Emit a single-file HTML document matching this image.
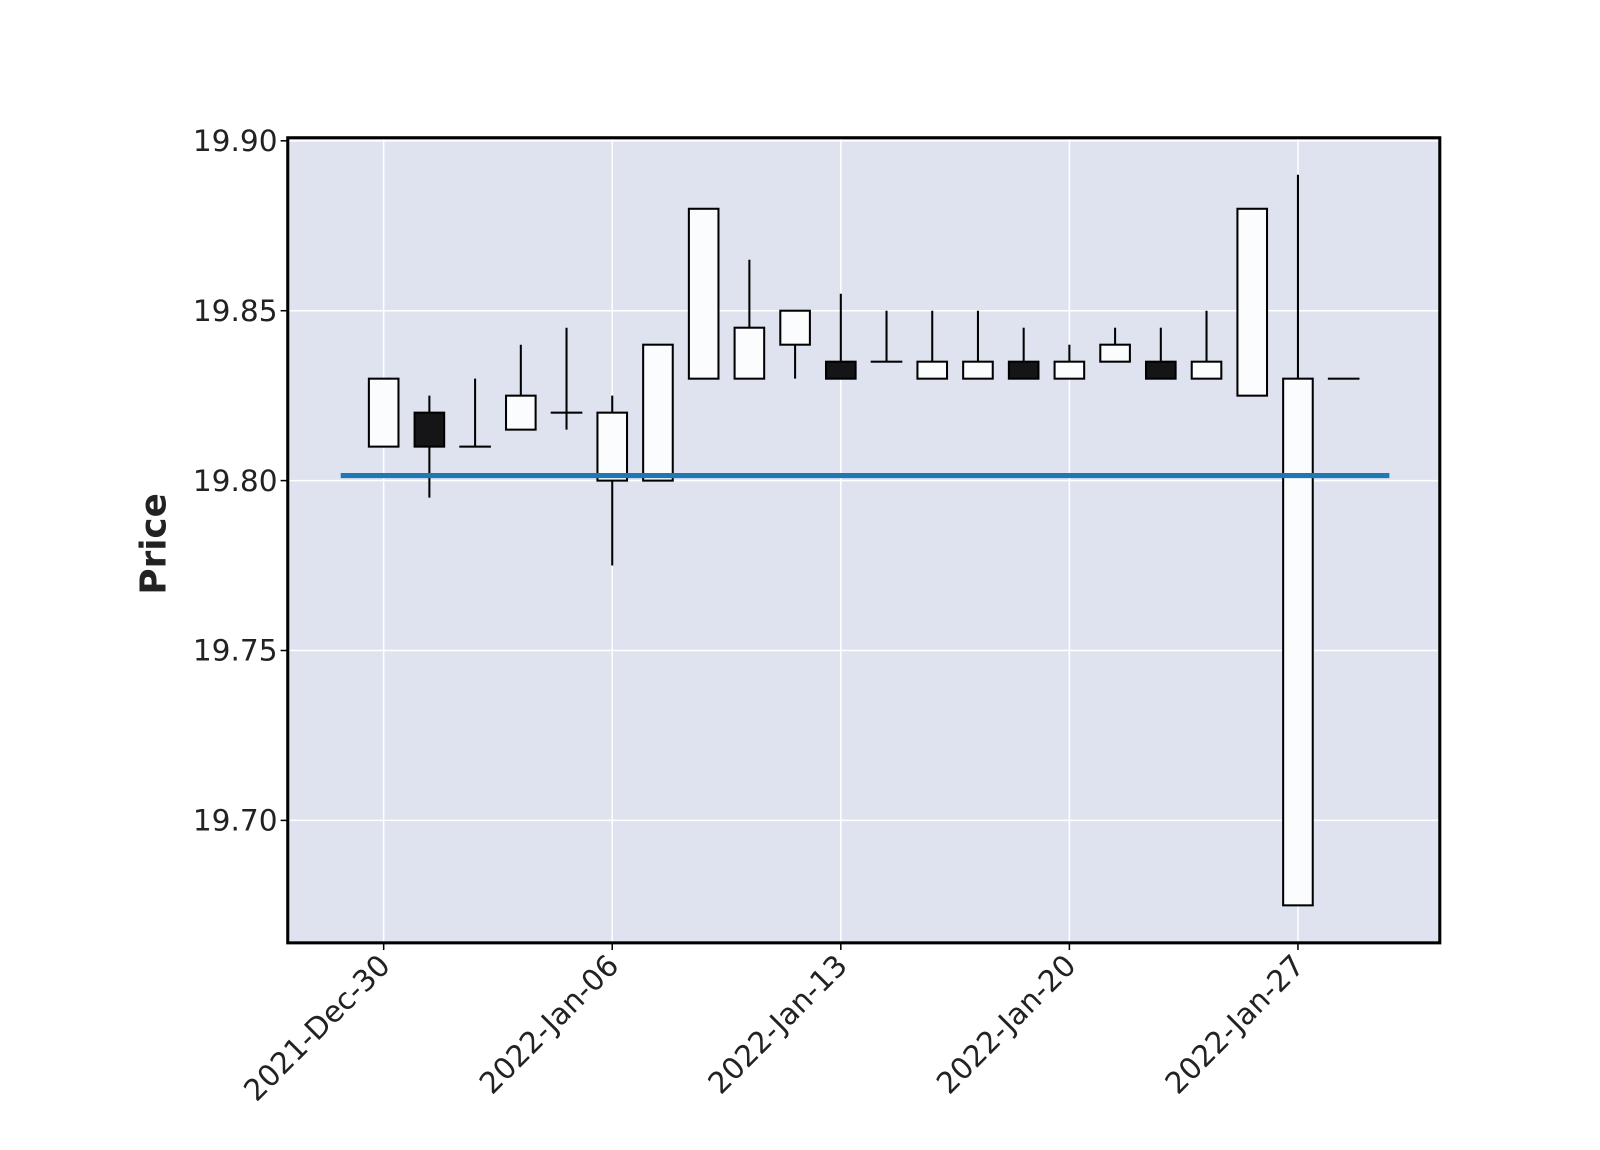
<!DOCTYPE html>
<html><head><meta charset="utf-8"><style>
html,body{margin:0;padding:0;background:#fff;}
svg{display:block;font-family:"DejaVu Sans","Liberation Sans",sans-serif;}
</style></head><body>
<svg id="chart" width="1600" height="1150" viewBox="0 0 1600 1150" xmlns="http://www.w3.org/2000/svg">
<g transform="scale(1.0204)">
<rect x="282" y="135" width="1129" height="789" fill="#dee3ef"/>
<g id="grid"></g>
<g id="marks"></g>
<g id="avg"></g>
<rect x="282" y="135" width="1129" height="789" fill="none" stroke="#000" stroke-width="3"/>
<g id="yticks"></g>
<g id="xticks"></g>
<text x="162" y="533" transform="rotate(-90 162 533)" text-anchor="middle" font-size="35" font-weight="bold" fill="#222">Price</text>
</g>
</svg>
<script>
const opens  = [19.81,19.82,19.81,19.815,19.82,19.80,19.80,19.83,19.83,19.84,19.835,19.835,19.83,19.83,19.835,19.83,19.835,19.835,19.83,19.825,19.675,19.83];
const highs  = [19.83,19.825,19.83,19.84,19.845,19.825,19.84,19.88,19.865,19.85,19.855,19.85,19.85,19.85,19.845,19.84,19.845,19.845,19.85,19.88,19.89,19.83];
const lows   = [19.81,19.795,19.81,19.815,19.815,19.775,19.80,19.83,19.83,19.83,19.83,19.835,19.83,19.83,19.83,19.83,19.835,19.83,19.83,19.825,19.675,19.83];
const closes = [19.83,19.81,19.81,19.825,19.82,19.82,19.84,19.88,19.845,19.85,19.83,19.835,19.835,19.835,19.83,19.835,19.84,19.83,19.835,19.88,19.83,19.83];
const avgValue = 19.8015;
const yTicks = [19.70,19.75,19.80,19.85,19.90];
const xTickIdx = [0,5,10,15,20];
const xTickLabels = ["2021-Dec-30","2022-Jan-06","2022-Jan-13","2022-Jan-20","2022-Jan-27"];

const NS="http://www.w3.org/2000/svg";
const X=i=>376+i*44.8;
const Y=v=>138+(19.90-v)*3330;
function mk(tag,attrs,parent){const e=document.createElementNS(NS,tag);for(const k in attrs)e.setAttribute(k,attrs[k]);document.getElementById(parent).appendChild(e);return e;}

yTicks.forEach((t,i)=>{
  const g=mk('line',{x1:282,x2:1411,y1:Y(t),y2:Y(t),stroke:'#fff','stroke-width':1.5},'grid');
  
  
  const tk=mk('line',{x1:275,x2:282,y1:Y(t),y2:Y(t),stroke:'#000','stroke-width':1.5},'yticks');
  
  
  const tx=mk('text',{x:272,y:Y(t)+10,'text-anchor':'end','font-size':29,fill:'#222'},'yticks');
  tx.textContent=t.toFixed(2);
  
  
});
xTickIdx.forEach((idx,i)=>{
  const g=mk('line',{x1:X(idx),x2:X(idx),y1:135,y2:924,stroke:'#fff','stroke-width':1.5},'grid');
  
  
  const tk=mk('line',{x1:X(idx),x2:X(idx),y1:924,y2:931,stroke:'#000','stroke-width':1.5},'xticks');
  
  
  const x=X(idx)+8,y=948;
  const tx=mk('text',{x:x,y:y,'text-anchor':'end','font-size':29,fill:'#222',transform:`rotate(-45 ${x} ${y})`},'xticks');
  tx.textContent=xTickLabels[i];
  
  
});
opens.forEach((o,i)=>{
  const c=closes[i],x=X(i);
  const w=mk('line',{x1:x,x2:x,y1:Y(highs[i]),y2:Y(lows[i]),stroke:'#000','stroke-width':2},'marks');
  
  
  const top=Math.max(o,c),bot=Math.min(o,c);
  const h=Math.max(Y(bot)-Y(top),0.01);
  const b=mk('rect',{x:x-14.5,y:Y(top),width:29,height:h,fill:c<o?'#151518':'#fbfcfe',stroke:'#000','stroke-width':2},'marks');
  
  
});
const al=mk('line',{x1:X(-0.94),x2:X(22.0),y1:Y(avgValue),y2:Y(avgValue),stroke:'#1f77b4','stroke-width':5},'avg');


</script>
</body></html>
